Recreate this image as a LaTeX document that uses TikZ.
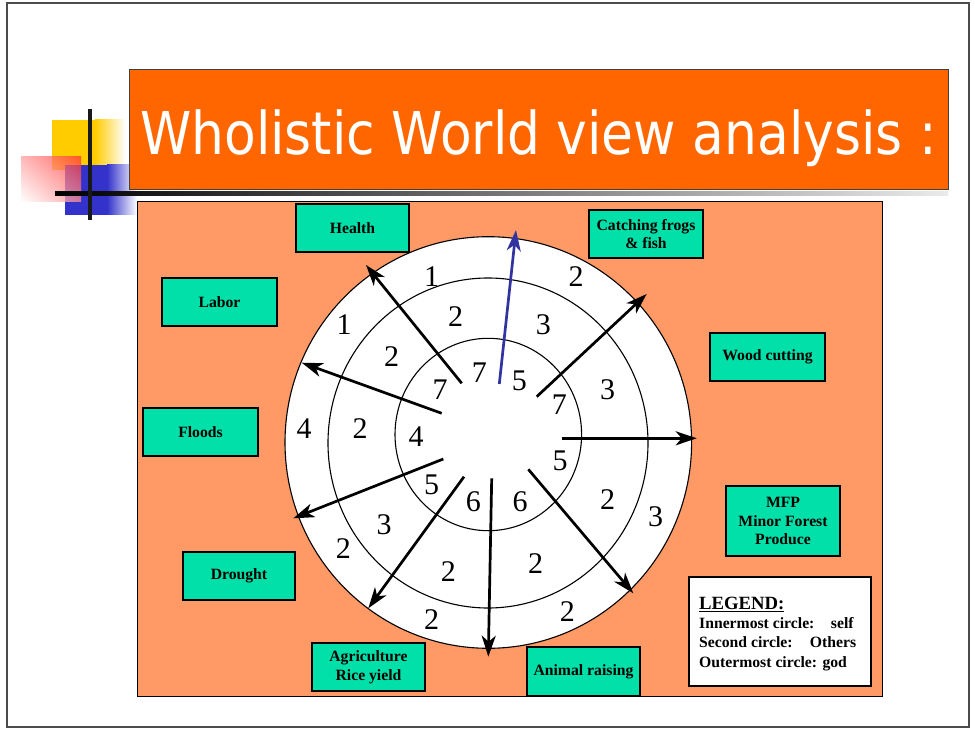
\documentclass[tikz,border=0pt]{standalone}
\usepackage{fontspec}
\setmainfont{Liberation Serif}
\newfontfamily\titlefont{DejaVu Sans}
\usetikzlibrary{arrows.meta,shadings}

\definecolor{slideorange}{HTML}{FF6600}
\definecolor{panelorange}{HTML}{FF9966}
\definecolor{boxgreen}{RGB}{0,224,168}
\definecolor{arrowblue}{RGB}{51,51,160}
\definecolor{decoyellow}{HTML}{FFCC00}
\definecolor{decoblue}{HTML}{3333CC}
\definecolor{decored}{HTML}{FF3333}

\tikzset{
  factor/.style={draw=black, line width=1.2pt, fill=boxgreen, inner sep=0pt, align=center,
    font=\fontsize{15.7}{18.5}\selectfont\bfseries},
  ring/.style={draw=black, line width=1.1pt, fill=white},
  spoke/.style={line width=2.7pt, -{Stealth[length=21pt,width=14pt,inset=6pt]}},
  score/.style={font=\fontsize{30}{30}\selectfont, inner sep=0pt},
  legendline/.style={anchor=base west, inner sep=0pt, font=\fontsize{15.7}{18}\selectfont\bfseries},
}

\begin{document}
\begin{tikzpicture}[x=1pt, y=-1pt]
  \useasboundingbox (0,0) rectangle (975,730);
  \fill[white] (0,0) rectangle (975,730);
  \draw[black!70, line width=1.5pt] (7,3) rectangle (969,727);

  % Bullet decoration
  \fill[decoyellow] (52,120) rectangle (95,170);
  \shade[left color=decoyellow, right color=white] (95,120) rectangle (125,170);
  \fill[decoblue] (65,165) rectangle (107,215);
  \shade[left color=decoblue, right color=white] (107,165) rectangle (137,215);
  \shade[opacity=0.75, upper right=decored, lower right=decored!55, upper left=decored!45,
    lower left=white] (21,157) rectangle (81,202);
  \shade[left color=black, right color=black!8] (55,192) rectangle (948,196);
  \fill[black!90] (88,109) rectangle (92,220);

  % Title bar
  \filldraw[fill=slideorange, draw=black!75, line width=1pt] (129,70) rectangle (948,190);
  \node[anchor=base west, inner sep=0pt, text=white] (title) at (140,155)
    {\titlefont\fontsize{59}{60}\selectfont\scalebox{0.879}[1]{Wholistic World view analysis :}};

  % Panel and rings
  \filldraw[fill=panelorange, draw=black, line width=1pt] (137,202) rectangle (882,696);
  \draw[ring] (488.3,442.5) ellipse [x radius=203.3, y radius=205.8];
  \draw[ring] (488,443) ellipse [x radius=160, y radius=165];
  \draw[ring] (488.3,434.5) ellipse [x radius=93.3, y radius=96.2];

  % Factors
  \node[factor, minimum width=113, minimum height=48] (health) at (352.5,228) {Health};
  \node[factor, minimum width=115, minimum height=48] (labor) at (219.5,302) {Labor};
  \node[factor, minimum width=115, minimum height=48] (floods) at (200.5,432) {Floods};
  \node[factor, minimum width=112, minimum height=48] (drought) at (239,576) {Drought};
  \node[factor, minimum width=113, minimum height=48] (agri) at (368.5,667) {Agriculture\\Rice yield};
  \node[factor, minimum width=113, minimum height=49] (animal) at (583.5,671.5) {Animal raising};
  \node[factor, minimum width=114, minimum height=70] (mfp) at (783,521) {MFP\\Minor Forest\\Produce};
  \node[factor, minimum width=115, minimum height=48] (wood) at (767.5,357) {Wood cutting};
  \node[factor, minimum width=114, minimum height=48] (frogs) at (646,234) {Catching frogs\\\& fish};

  % Spokes
  \foreach \n/\tx/\ty/\hx/\hy in {health/461.7/383.3/366/265, frogs/536.7/396.7/646.7/294,
      wood/561.7/438.3/696.7/438.3, animal/528.3/469.3/633.3/593.3,
      south/491.7/478.3/488.3/656.7, agri/464/476.7/368.3/608.3,
      drought/443.3/459/293.3/518.3, labor/441.7/413.3/301.7/362.7} {
    \coordinate (\n-tail) at (\tx,\ty);
    \coordinate (\n-tip) at (\hx,\hy);
    \draw[spoke] (\n-tail) -- (\n-tip);
  }
  \coordinate (north-tail) at (499.3,384);
  \coordinate (north-tip) at (516,230);
  \draw[spoke, arrowblue] (north-tail) -- (north-tip);

  % Scores: god, others, self
  \foreach \x/\y/\v [count=\i] in {431.7/276.7/1, 576/276.7/2, 344/325/1, 304/428.3/4,
      655.7/516.7/3, 343.3/548.3/2, 431.7/620/2, 567.3/611.7/2}
    \node[score] (god-\i) at (\x,\y) {\v};
  \foreach \x/\y/\v [count=\i] in {455.7/316.7/2, 543.3/325/3, 391.7/356.7/2, 607.7/390/3,
      360/428.3/2, 607.7/500/2, 384/525/3, 448.3/571.7/2, 535.7/563.3/2}
    \node[score] (others-\i) at (\x,\y) {\v};
  \foreach \x/\y/\v [count=\i] in {479.3/372.7/7, 519.3/380.7/5, 440/390/7, 559.3/405/7,
      416/436.7/4, 560/460.7/5, 431.7/485/5, 473.3/501.7/6, 520/501.7/6}
    \node[score] (self-\i) at (\x,\y) {\v};

  % Legend
  \node[draw=black, line width=1.2pt, fill=white, minimum width=182, minimum height=109] (legend) at (780,631.5) {};
  \node[legendline, font=\fontsize{18.7}{20}\selectfont\bfseries] (legend-head) at (699,609.5) {\underline{LEGEND:}};
  \node[legendline] (legend-self) at (699,628.3) {Innermost circle:\hspace{1.05em}self};
  \node[legendline] (legend-others) at (699,647.5) {Second circle:\hspace{1.1em}Others};
  \node[legendline] (legend-god) at (699,667) {Outermost circle:\hspace{0.35em}god};
\end{tikzpicture}
\end{document}
